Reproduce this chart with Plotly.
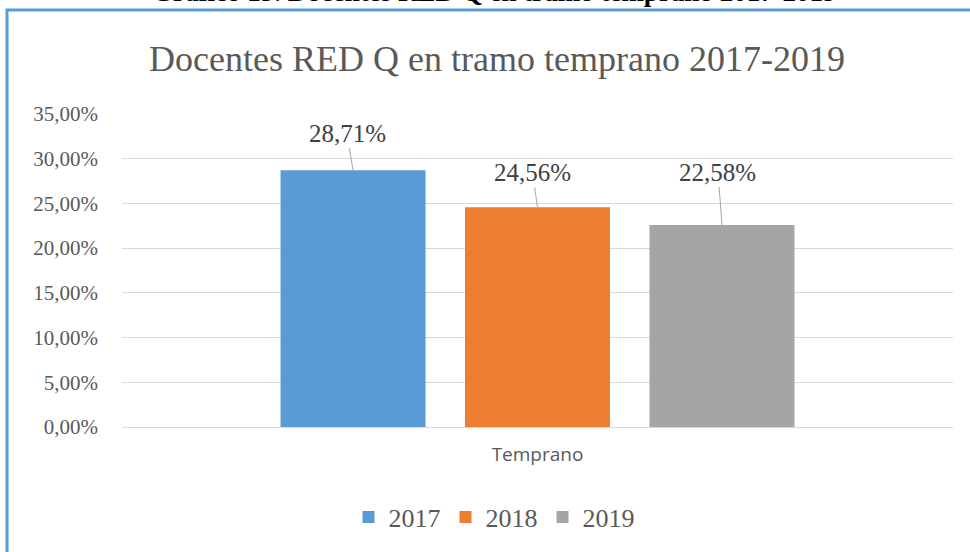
import plotly.graph_objects as go

categories = ["Temprano"]
years = ["2017", "2018", "2019"]
values = [0.2871, 0.2456, 0.2258]
colors = ["#5B9BD5", "#ED7D31", "#A5A5A5"]
tick_vals = [0, 0.05, 0.10, 0.15, 0.20, 0.25, 0.30, 0.35]
title_text = "Docentes RED Q en tramo temprano 2017-2019"
caption_text = "Gráfico 13. Docentes RED Q en tramo temprano 2017-2019"

W, H = 970, 552
ML, MR, MT, MB = 122, 17, 114, 125
pw = W - ML - MR
ph = H - MT - MB

serif = "Liberation Serif"
sans = "Open Sans"

fig = go.Figure()
for yr, v, c in zip(years, values, colors):
    fig.add_trace(go.Bar(x=categories, y=[v], name=yr, marker=dict(color=c, line=dict(width=0)),
                         hoverinfo="skip"))

# data labels with leader lines
offsets = [-0.222, 0.0, 0.222]
label_shift = [(-6, -37), (-5, -35), (-4, -53)]
annotations = []
for v, off, (ax, ay) in zip(values, offsets, label_shift):
    annotations.append(dict(
        x=off, y=v, xref="x", yref="y",
        text=f"{v*100:.2f}%".replace(".", ","),
        showarrow=True, arrowhead=0, arrowwidth=1, arrowcolor="#A6A6A6",
        ax=ax, ay=ay, standoff=0,
        font=dict(family=serif, size=25, color="#404040"),
    ))

# partially visible caption above the chart frame (only its lower edge shows)
annotations.append(dict(
    x=(494 - ML) / pw, y=(H - MB - 9) / ph, xref="paper", yref="paper",
    text="<b>" + caption_text + "</b>", showarrow=False,
    xanchor="center", yanchor="bottom",
    font=dict(family=serif, size=27, color="#000000"),
))

fig.update_layout(
    width=W, height=H,
    margin=dict(l=ML, r=MR, t=MT, b=MB),
    paper_bgcolor="white", plot_bgcolor="white",
    separators=",.",
    barmode="group", bargap=0.334, bargroupgap=0.214,
    title=dict(text=title_text, x=497 / W, xanchor="center", y=1 - 58 / H, yanchor="middle",
               font=dict(family=serif, size=36, color="#595959")),
    xaxis=dict(showgrid=False, showline=True, linecolor="#D9D9D9", linewidth=1,
               ticks="", tickfont=dict(family=sans, size=19, color="#595959"), ticklabelstandoff=10),
    yaxis=dict(range=[0, 0.35], tickvals=tick_vals, tickformat=".2%",
               showgrid=True, gridcolor="#D9D9D9", gridwidth=1, zeroline=False,
               showline=False, ticks="", ticklabelstandoff=23,
               tickfont=dict(family=serif, size=21, color="#595959")),
    legend=dict(orientation="h", x=0.5 + (494 - ML - pw / 2) / pw, xanchor="center",
                y=-(517 - (H - MB)) / ph, yanchor="middle",
                font=dict(family=serif, size=26, color="#595959"),
                traceorder="normal"),
    showlegend=True,
    annotations=annotations,
    shapes=[dict(type="rect", xref="paper", yref="paper",
                 x0=(7 - ML) / pw, x1=(W + 20 - ML) / pw,
                 y0=-(H + 20 - (H - MB)) / ph, y1=(H - MB - 10) / ph,
                 line=dict(color="#5B9BD5", width=3), fillcolor="rgba(0,0,0,0)", layer="below")],
)

fig.write_html("out.html", config={"displayModeBar": False},
               post_script="document.body.style.margin='0';")
